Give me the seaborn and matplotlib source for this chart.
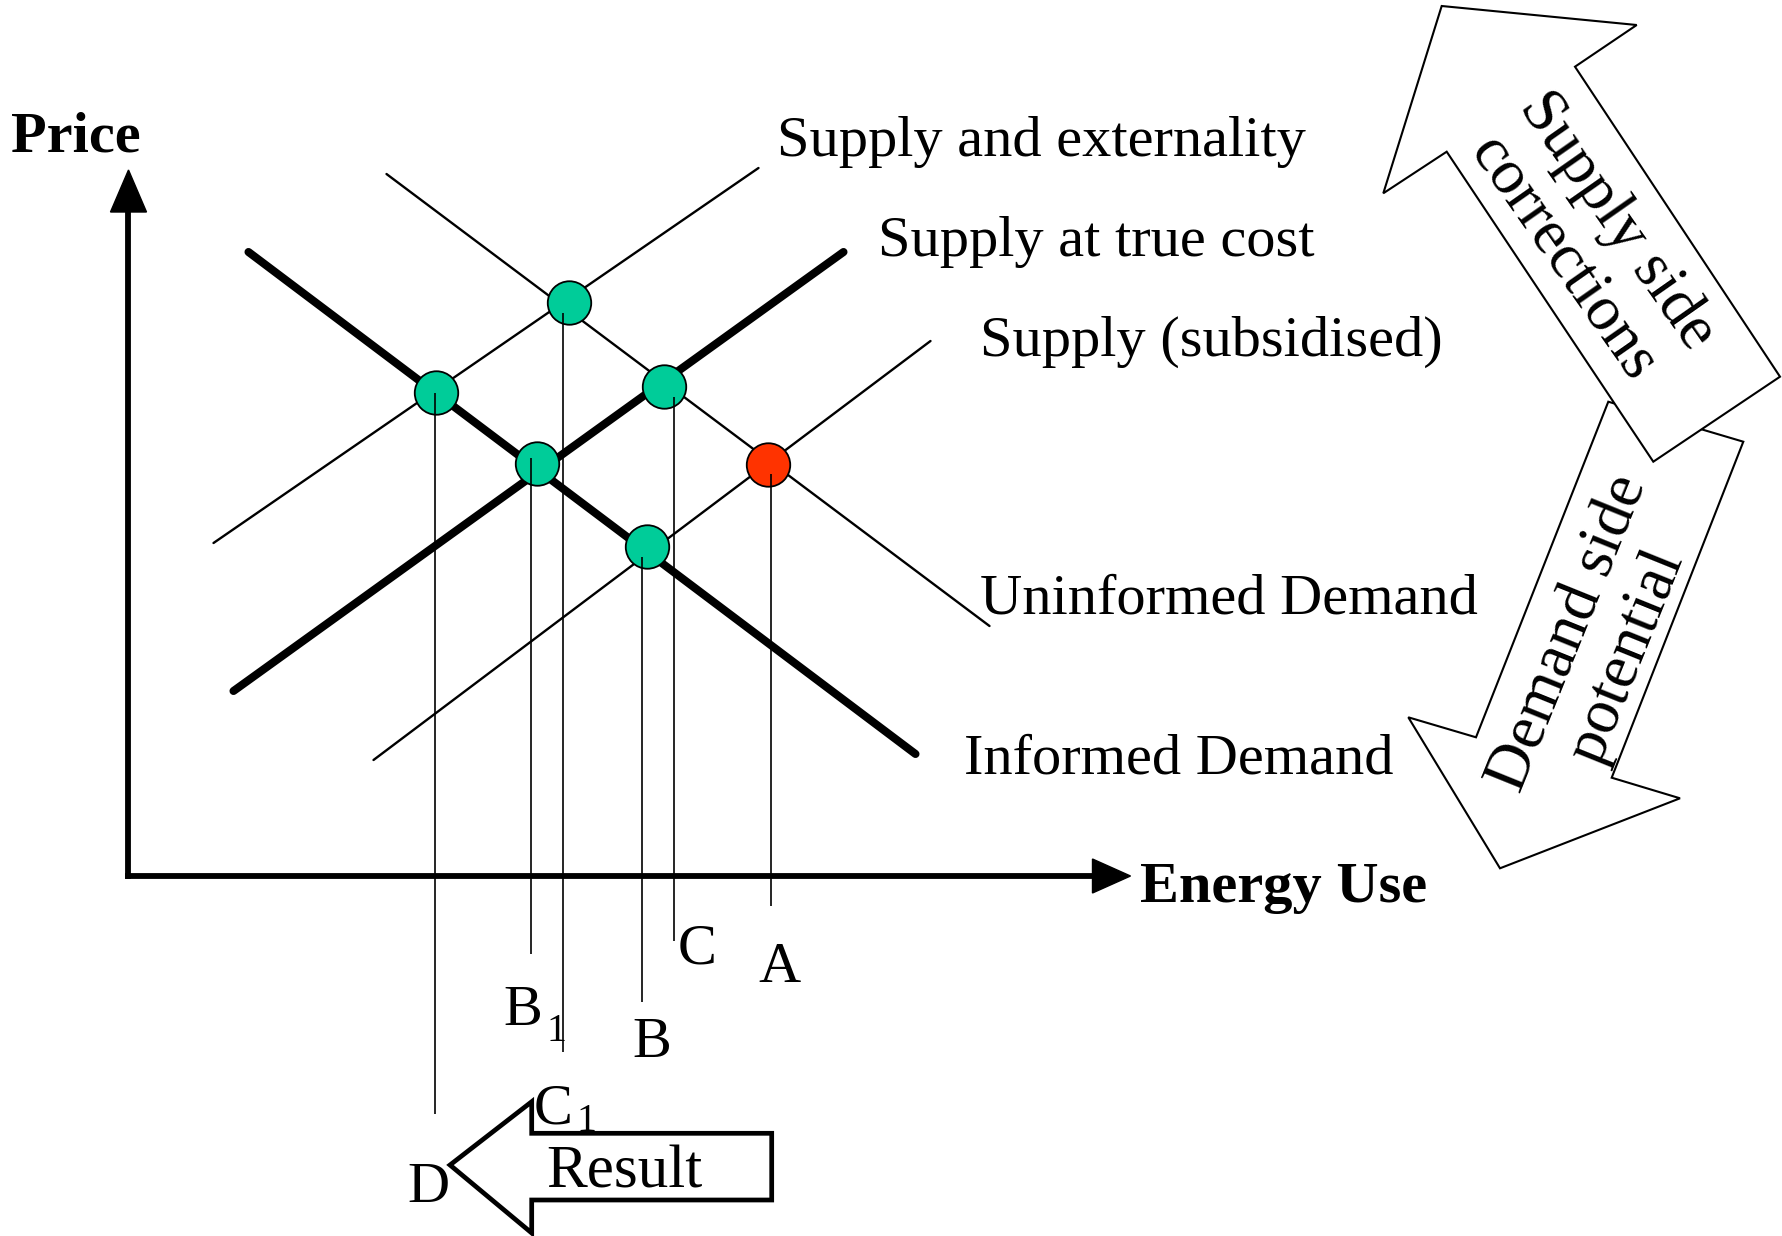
import numpy as np
import pandas as pd
import matplotlib
matplotlib.use("Agg")
import matplotlib.pyplot as plt
from matplotlib.patches import Polygon
import seaborn as sns

sns.set_style("white")
plt.rcParams["font.family"] = ["Liberation Serif", "DejaVu Serif"]
plt.rcParams["text.color"] = "black"

W, H = 1783, 1236
OX, OY = 128.5, 876  # corner of the price / energy-use axes, in pixels

# demand and supply curves, (energy use, price) at both ends
curve_names = ["Uninformed Demand", "Informed Demand", "Supply and externality",
               "Supply at true cost", "Supply (subsidised)"]
curve_x0 = [258, 120, 85, 105, 245]
curve_y0 = [702, 624, 333, 185, 116]
curve_x1 = [861, 787, 630, 715, 802]
curve_y1 = [250, 122, 708, 624, 535]
curve_heavy = [False, True, False, True, False]

# market outcomes (dots) and the energy-use level each one drops to
point_names = ["C1", "D", "C", "B1", "A", "B"]
point_x = [441, 308, 536, 409, 640, 519]
point_y = [573, 483, 489, 412, 411, 329]
point_kind = ["corrected", "corrected", "corrected", "corrected", "current", "corrected"]
level_x = [435, 306.5, 545.5, 403, 642.5, 514]
level_top = [563, 483, 479, 418, 402, 319]
level_bottom = [-176, -238, -65, -78, -30, -126]

curves = pd.DataFrame({"name": curve_names, "x0": curve_x0, "y0": curve_y0,
                       "x1": curve_x1, "y1": curve_y1, "heavy": curve_heavy})
pts = pd.DataFrame({"name": point_names, "x": point_x, "y": point_y, "kind": point_kind})

fig = plt.figure(figsize=(W / 100, H / 100), dpi=100)
ax = fig.add_axes([0, 0, 1, 1])
ax.set_xlim(-OX, W - OX)
ax.set_ylim(OY - H, OY)
ax.axis("off")

# axes with arrow heads
ax.plot([0, 0], [0, 668], color="black", lw=4.2, solid_capstyle="projecting")
ax.plot([0, 968], [0, 0], color="black", lw=4.2, solid_capstyle="projecting")
ax.add_patch(Polygon([(0, 706), (-18, 664), (18, 664)], closed=True, color="black"))
ax.add_patch(Polygon([(1002, 0), (964, 17), (964, -17)], closed=True, color="black"))

# drop lines down to the energy-use levels
ax.vlines(level_x, level_bottom, level_top, color="black", lw=1.2, zorder=6)

for _, c in curves.iterrows():
    sns.lineplot(x=[c.x0, c.x1], y=[c.y0, c.y1], ax=ax, color="black",
                 lw=5.8 if c.heavy else 1.7, zorder=3, sort=False)

sns.scatterplot(data=pts, x="x", y="y", hue="kind", ax=ax, marker="o", s=980,
                palette={"corrected": "#00CC99", "current": "#FF3300"},
                edgecolor="black", linewidth=1.3, legend=False, zorder=5)

# overlay in pixel units for labels and the big arrows
deco = fig.add_axes([0, 0, 1, 1])
deco.set_xlim(0, W)
deco.set_ylim(H, 0)
deco.axis("off")

fs = 42
deco.text(11, 151, "Price", fontsize=fs, fontweight="bold", va="baseline")
deco.text(1140, 902, "Energy Use", fontsize=fs, fontweight="bold", va="baseline")

deco.text(777, 156, curve_names[2], fontsize=fs, va="baseline")
deco.text(878, 256, curve_names[3], fontsize=fs, va="baseline")
deco.text(980, 356, curve_names[4], fontsize=fs, va="baseline")
deco.text(980, 614, curve_names[0], fontsize=fs, va="baseline")
deco.text(964, 773, curve_names[1], fontsize=fs, va="baseline")

deco.text(678, 963, "C", fontsize=fs, va="baseline")
deco.text(758, 982, "A", fontsize=fs, va="baseline")
deco.text(503, 1025, "B", fontsize=fs, va="baseline")
deco.text(547, 1041, "1", fontsize=29, va="baseline")
deco.text(632, 1057, "B", fontsize=fs, va="baseline")
deco.text(534, 1123, "C", fontsize=fs, va="baseline")
deco.text(577, 1131, "1", fontsize=29, va="baseline")
deco.text(407, 1202, "D", fontsize=fs, va="baseline")

result_arrow = [(450, 1165), (531.7, 1101.7), (531.7, 1133.3), (771.7, 1133.3),
                (771.7, 1200), (531.7, 1200), (531.7, 1233)]
deco.add_patch(Polygon(result_arrow, closed=True, facecolor="white", edgecolor="black", lw=3.4, zorder=4))
deco.text(546, 1188, "Result", fontsize=44, va="baseline", zorder=5)

demand_arrow = [(1608.3, 401.7), (1743.3, 441.7), (1611.7, 777.7), (1680, 798.3),
                (1500, 868.3), (1408.3, 717.3), (1476, 737.3)]
supply_arrow = [(1441.7, 6), (1636.7, 25), (1575, 66.7), (1780, 376.7),
                (1653.3, 461.7), (1446.7, 151.7), (1383.3, 193.3)]
deco.add_patch(Polygon(demand_arrow, closed=True, facecolor="white", edgecolor="black", lw=1.5, zorder=2))
deco.text(1598, 645, "Demand side\npotential", fontsize=46, rotation=68, rotation_mode="anchor",
          ha="center", va="center", multialignment="center", linespacing=1.1, zorder=3)
deco.add_patch(Polygon(supply_arrow, closed=True, facecolor="white", edgecolor="black", lw=1.5, zorder=4))
deco.text(1590, 240, "Supply side\ncorrections", fontsize=46, rotation=-55, rotation_mode="anchor",
          ha="center", va="center", multialignment="center", linespacing=1.2, zorder=5)

fig.savefig("out.png", dpi=100, facecolor="white")
